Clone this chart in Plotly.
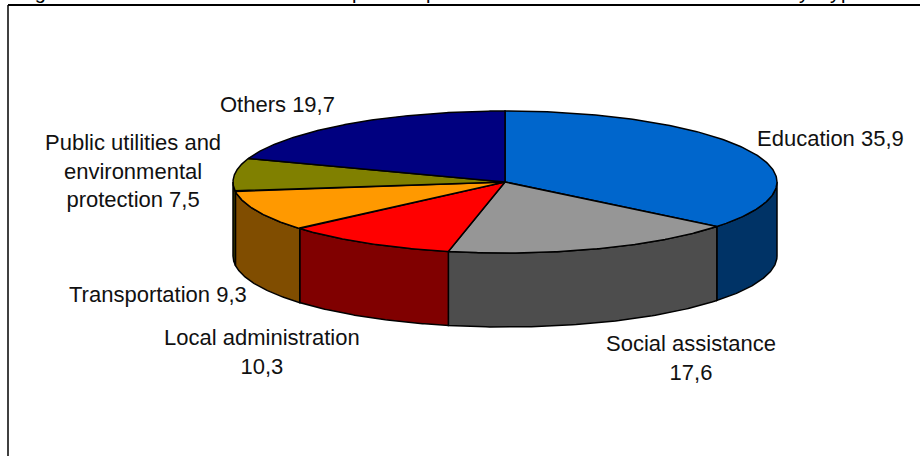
import numpy as np
import plotly.graph_objects as go

categories = ["Education", "Social assistance", "Local administration",
              "Transportation", "Public utilities and environmental protection", "Others"]
values = [35.9, 17.6, 10.3, 9.3, 7.5, 19.7]
top_colors = ["#0066CC", "#969696", "#FF0000", "#FF9900", "#808000", "#000080"]
side_colors = ["#003366", "#4D4D4D", "#800000", "#804D00", "#404000", "#000040"]
label_texts = ["Education 35,9", "Social assistance<br>17,6", "Local administration<br>10,3",
               "Transportation 9,3", "Public utilities and<br>environmental<br>protection 7,5", "Others 19,7"]
label_x = [830, 691, 262, 158, 133, 277]
label_y = [138, 358, 352, 294, 171, 104]
# Heading of the source is cut off by the page edge: only its descenders show.
heading_parts = ["Figure", "p", "p", "y", "t", "y", "p", "e"]
heading_x = [17, 351, 425, 798, 815, 829, 840, 851]

CX, CY, RX, RY, DEPTH = 505, 182, 272, 71, 74
LINE = dict(color="black", width=1.5)

fig = go.Figure()
edges = np.concatenate([[0], np.cumsum(values)]) / sum(values) * 360

# sides: only the part of the rim that faces the viewer (90 to 270 degrees)
for i in range(len(values)):
    a, b = max(edges[i], 90), min(edges[i + 1], 270)
    if a >= b:
        continue
    th = np.linspace(a, b, 80)
    t = np.radians(th)
    xs = CX + RX * np.sin(t)
    ys = CY - RY * np.cos(t)
    fig.add_trace(go.Scatter(
        x=np.concatenate([xs, xs[::-1], xs[:1]]),
        y=np.concatenate([ys, ys[::-1] + DEPTH, ys[:1]]),
        mode="lines", fill="toself", fillcolor=side_colors[i], line=LINE,
        hoverinfo="skip", showlegend=False))

# top face
for i in range(len(values)):
    th = np.linspace(edges[i], edges[i + 1], 160)
    t = np.radians(th)
    xs = CX + RX * np.sin(t)
    ys = CY - RY * np.cos(t)
    fig.add_trace(go.Scatter(
        x=np.concatenate([[CX], xs, [CX]]),
        y=np.concatenate([[CY], ys, [CY]]),
        mode="lines", fill="toself", fillcolor=top_colors[i], line=LINE,
        name=categories[i], hoverinfo="name", showlegend=False))

for txt, x, y in zip(label_texts, label_x, label_y):
    fig.add_annotation(x=x, y=y, xref="x", yref="y", text=txt, showarrow=False,
                       xanchor="center", yanchor="middle", align="center",
                       font=dict(family="Liberation Sans", size=22, color="#111111"))

for txt, x in zip(heading_parts, heading_x):
    fig.add_annotation(x=x / 920, y=1, xref="paper", yref="paper", text=txt, showarrow=False,
                       xanchor="left", yanchor="bottom", yshift=-4, borderpad=0,
                       font=dict(family="Liberation Sans", size=20, color="black"))

fig.add_shape(type="line", xref="x", yref="y", x0=8, x1=920, y0=5, y1=5,
              line=dict(color="black", width=2))
fig.add_shape(type="line", xref="x", yref="y", x0=8, x1=8, y0=5, y1=456,
              line=dict(color="black", width=1.5))

fig.update_layout(
    width=920, height=456, margin=dict(l=0, r=0, t=0, b=0),
    paper_bgcolor="white", plot_bgcolor="white", showlegend=False,
    xaxis=dict(range=[0, 920], visible=False, fixedrange=True),
    yaxis=dict(range=[456, 0], visible=False, fixedrange=True),
)
fig.write_html("out.html", config=dict(displayModeBar=False),
               post_script="document.body.style.margin='0';document.documentElement.style.overflow='hidden';")
